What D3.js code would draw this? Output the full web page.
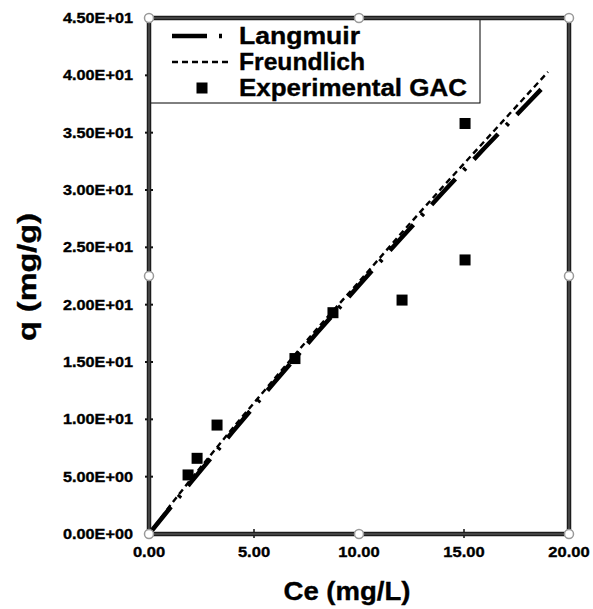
<!DOCTYPE html>
<html>
<head>
<meta charset="utf-8">
<script src="https://cdn.jsdelivr.net/npm/d3@7"></script>
<style>
  html, body { margin: 0; padding: 0; background: #fff; }
  svg { display: block; font-family: "Liberation Sans", Arial, sans-serif; font-weight: bold; }
  text { stroke: #000; stroke-width: 0.35px; }
</style>
</head>
<body>
<svg id="chart" width="593" height="609"></svg>
<script>
// Experimental equilibrium data for GAC
const expCe = [1.86, 2.29, 3.24, 6.95, 8.76, 12.05, 15.05, 15.05];
const expQ  = [5.15, 6.6, 9.5, 15.3, 19.3, 20.4, 23.9, 35.8];

// Fitted isotherm curves
const fitCe       = [0, 1, 2, 4, 6, 8, 10, 12, 14, 16, 18, 19];
const langmuirQ   = [0, 2.27, 4.52, 8.95, 13.3, 17.55, 21.7, 25.8, 29.8, 33.7, 37.5, 39.4];
const freundlichQ = [0, 2.47, 4.79, 9.27, 13.6, 17.9, 22.0, 26.2, 30.3, 34.3, 38.3, 40.3];

// Axis ticks
const xTicks = [0, 5, 10, 15, 20];
const xTickLabels = ["0.00", "5.00", "10.00", "15.00", "20.00"];
const yTicks = [0, 5, 10, 15, 20, 25, 30, 35, 40, 45];
const yTickLabels = ["0.00E+00", "5.00E+00", "1.00E+01", "1.50E+01", "2.00E+01",
                     "2.50E+01", "3.00E+01", "3.50E+01", "4.00E+01", "4.50E+01"];

const legendNames = ["Langmuir", "Freundlich", "Experimental GAC"];
const legendWidths = [121, 126, 228];

const svg = d3.select("#chart");
const L = 149, R = 569, T = 18, B = 534;

const x = d3.scaleLinear().domain([0, 20]).range([L, R]);
const y = d3.scaleLinear().domain([0, 45]).range([B, T]);

// widen text horizontally like the original export
function stretch(sel, factor) {
  sel.each(function () {
    const w = this.getComputedTextLength();
    d3.select(this).attr("textLength", w * factor).attr("lengthAdjust", "spacingAndGlyphs");
  });
}

// Fitted lines
const line = d3.line().x((d, i) => x(fitCe[i])).y(d => y(d));

svg.append("path")
  .datum(freundlichQ)
  .attr("d", line)
  .attr("fill", "none")
  .attr("stroke", "#000")
  .attr("stroke-width", 2.4)
  .attr("stroke-dasharray", "6,4");

svg.append("path")
  .datum(langmuirQ)
  .attr("d", line)
  .attr("fill", "none")
  .attr("stroke", "#000")
  .attr("stroke-width", 4.5)
  .attr("stroke-dasharray", "35,12,3,12");

// Experimental points
const sq = 11;
svg.append("g").selectAll("rect")
  .data(expQ)
  .join("rect")
  .attr("x", (d, i) => x(expCe[i]) - sq / 2)
  .attr("y", d => y(d) - sq / 2)
  .attr("width", sq)
  .attr("height", sq)
  .attr("fill", "#000");

// Tick marks (cross the frame)
svg.append("g").selectAll("line")
  .data(yTicks.slice(1, -1))
  .join("line")
  .attr("x1", L - 4).attr("x2", L + 4)
  .attr("y1", d => y(d)).attr("y2", d => y(d))
  .attr("stroke", "#111").attr("stroke-width", 2);

svg.append("g").selectAll("line")
  .data(xTicks.slice(1, -1))
  .join("line")
  .attr("y1", B - 5).attr("y2", B + 4)
  .attr("x1", d => x(d)).attr("x2", d => x(d))
  .attr("stroke", "#111").attr("stroke-width", 1.5);

// Legend box (white, over the plot)
const lg = svg.append("g");
lg.append("rect")
  .attr("x", L).attr("y", T).attr("width", 480 - L).attr("height", 103 - T)
  .attr("fill", "#fff").attr("stroke", "#000").attr("stroke-width", 1);

const rowBase = [44, 70, 96];
lg.append("line")
  .attr("x1", 172).attr("x2", 222)
  .attr("y1", rowBase[0] - 8).attr("y2", rowBase[0] - 8)
  .attr("stroke", "#000").attr("stroke-width", 4.5)
  .attr("stroke-dasharray", "35,12,3,12");
lg.append("line")
  .attr("x1", 172).attr("x2", 232)
  .attr("y1", rowBase[1] - 8).attr("y2", rowBase[1] - 8)
  .attr("stroke", "#000").attr("stroke-width", 2.4)
  .attr("stroke-dasharray", "6,4");
lg.append("rect")
  .attr("x", 202 - sq / 2).attr("y", rowBase[2] - 8 - sq / 2)
  .attr("width", sq).attr("height", sq).attr("fill", "#000");

lg.selectAll("text")
  .data(legendNames)
  .join("text")
  .attr("x", 239)
  .attr("y", (d, i) => rowBase[i])
  .attr("font-size", 23)
  .attr("fill", "#000")
  .attr("textLength", (d, i) => legendWidths[i])
  .attr("lengthAdjust", "spacingAndGlyphs")
  .text(d => d);

// Plot frame: dark double-ish border
const frame = svg.append("g");
frame.append("rect")
  .attr("x", L).attr("y", T).attr("width", R - L).attr("height", B - T)
  .attr("fill", "none").attr("stroke", "#1c1c1c").attr("stroke-width", 4.5);
frame.append("rect")
  .attr("x", L).attr("y", T).attr("width", R - L).attr("height", B - T)
  .attr("fill", "none").attr("stroke", "#6a6a6a").attr("stroke-width", 1);

// Selection handles on the plot area
const handles = [[L, T], [(L + R) / 2, T], [R, T], [L, (T + B) / 2], [R, (T + B) / 2],
                 [L, B], [(L + R) / 2, B], [R, B]];
svg.append("g").selectAll("circle")
  .data(handles)
  .join("circle")
  .attr("cx", d => d[0]).attr("cy", d => d[1]).attr("r", 4.5)
  .attr("fill", "#fff").attr("stroke", "#999").attr("stroke-width", 1.5);

// Tick labels
svg.append("g").selectAll("text")
  .data(yTicks)
  .join("text")
  .attr("x", 133)
  .attr("y", d => y(d) + 5)
  .attr("text-anchor", "end")
  .attr("font-size", 14.5)
  .attr("fill", "#000")
  .text((d, i) => yTickLabels[i])
  .call(stretch, 1.12);

svg.append("g").selectAll("text")
  .data(xTicks)
  .join("text")
  .attr("x", d => x(d))
  .attr("y", 557)
  .attr("text-anchor", "middle")
  .attr("font-size", 14.5)
  .attr("fill", "#000")
  .text((d, i) => xTickLabels[i])
  .call(stretch, 1.14);

// Axis titles
svg.append("text")
  .attr("x", 347).attr("y", 600)
  .attr("text-anchor", "middle")
  .attr("font-size", 25)
  .attr("fill", "#000")
  .attr("textLength", 127).attr("lengthAdjust", "spacingAndGlyphs")
  .text("Ce (mg/L)");

svg.append("text")
  .attr("transform", "translate(36,277) rotate(-90)")
  .attr("text-anchor", "middle")
  .attr("font-size", 25)
  .attr("fill", "#000")
  .attr("textLength", 128).attr("lengthAdjust", "spacingAndGlyphs")
  .text("q (mg/g)");
</script>
</body>
</html>
